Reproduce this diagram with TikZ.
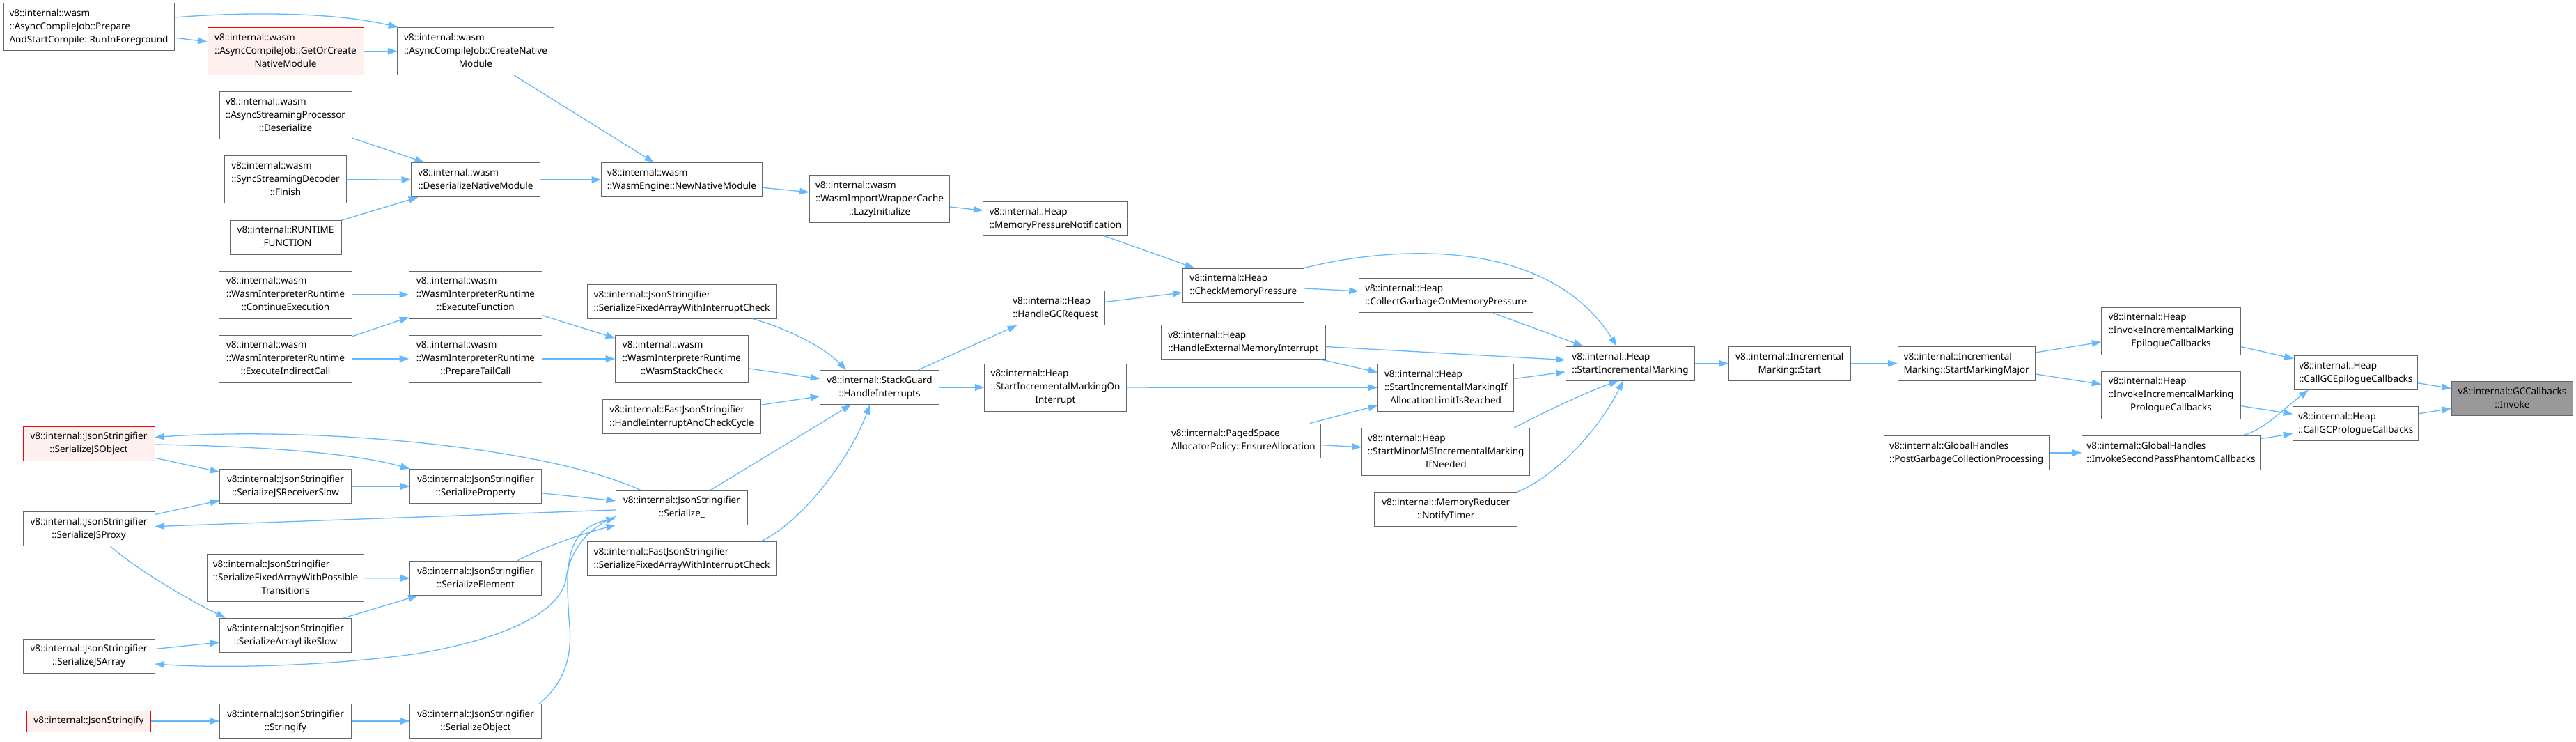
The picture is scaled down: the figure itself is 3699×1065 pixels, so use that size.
\documentclass[tikz,border=0pt]{standalone}
\usepackage{fontspec}
\setmainfont{Noto Sans}
\usetikzlibrary{arrows.meta}
\definecolor{edgeblue}{HTML}{63B8FF}
\definecolor{boxgray}{HTML}{666666}
\definecolor{redfill}{HTML}{FFF0F0}
\definecolor{hifill}{HTML}{999999}
\newcommand\dxl[2]{\begin{tabular}{@{}l@{}}#1\\\multicolumn{1}{@{}c@{}}{#2}\end{tabular}}
\newcommand\dxo[1]{\begin{tabular}{@{}c@{}}#1\end{tabular}}
\begin{document}
\begin{tikzpicture}[x=1pt,y=-1pt,
  box/.style={draw=boxgray, line width=1pt, fill=white, inner xsep=4pt, inner ysep=5.5pt, font=\fontsize{13.5}{19}\selectfont, text=black},
  redbox/.style={box, draw=red, fill=redfill},
  hibox/.style={box, fill=hifill},
  call/.style={draw=edgeblue, line width=1.3pt, -{Triangle[length=13.5pt,width=9.5pt]}}]
\useasboundingbox[fill=white] (0,0) rectangle (3699,1065);

% column 1
\node[box, minimum width=245pt] (rif) at (127.5,39) {\dxl{v8::internal::wasm\\::AsyncCompileJob::Prepare}{AndStartCompile::RunInForeground}};
\node[redbox, minimum width=189pt] (sjso) at (127.5,636.5) {\dxl{v8::internal::JsonStringifier}{::SerializeJSObject}};
\node[box, minimum width=189pt] (sjsp) at (127.5,759) {\dxl{v8::internal::JsonStringifier}{::SerializeJSProxy}};
\node[box, minimum width=189pt] (sjsa) at (127.5,941.5) {\dxl{v8::internal::JsonStringifier}{::SerializeJSArray}};
\node[redbox, minimum width=178.3pt] (jsfy) at (127.5,1035) {\dxo{v8::internal::JsonStringify}};

% column 2
\node[redbox, minimum width=224pt] (goc) at (410,73.7) {\dxl{v8::internal::wasm\\::AsyncCompileJob::GetOrCreate}{NativeModule}};
\node[box, minimum width=190pt] (asp) at (410,165.7) {\dxl{v8::internal::wasm\\::AsyncStreamingProcessor}{::Deserialize}};
\node[box, minimum width=174.4pt] (ssd) at (410,257.8) {\dxl{v8::internal::wasm\\::SyncStreamingDecoder}{::Finish}};
\node[box, minimum width=160pt] (rtf) at (410,340.5) {\dxl{v8::internal::RUNTIME}{\_FUNCTION}};
\node[box, minimum width=191pt] (ce) at (410,423) {\dxl{v8::internal::wasm\\::WasmInterpreterRuntime}{::ContinueExecution}};
\node[box, minimum width=191pt] (eic) at (410,515) {\dxl{v8::internal::wasm\\::WasmInterpreterRuntime}{::ExecuteIndirectCall}};
\node[box, minimum width=188.6pt] (sjsrs) at (410,698) {\dxl{v8::internal::JsonStringifier}{::SerializeJSReceiverSlow}};
\node[box, minimum width=225.8pt] (sfawpt) at (410,829.6) {\dxl{v8::internal::JsonStringifier\\::SerializeFixedArrayWithPossible}{Transitions}};
\node[box, minimum width=188.6pt] (sals) at (410,912) {\dxl{v8::internal::JsonStringifier}{::SerializeArrayLikeSlow}};
\node[box, minimum width=188.6pt] (strf) at (410,1035) {\dxl{v8::internal::JsonStringifier}{::Stringify}};

% column 3
\node[box, minimum width=224.3pt] (cn) at (683,73.7) {\dxl{v8::internal::wasm\\::AsyncCompileJob::CreateNative}{Module}};
\node[box, minimum width=185pt] (dnm) at (683,258) {\dxl{v8::internal::wasm}{::DeserializeNativeModule}};
\node[box, minimum width=190.6pt] (ef) at (683,423) {\dxl{v8::internal::wasm\\::WasmInterpreterRuntime}{::ExecuteFunction}};
\node[box, minimum width=190.6pt] (ptc) at (683,515) {\dxl{v8::internal::wasm\\::WasmInterpreterRuntime}{::PrepareTailCall}};
\node[box, minimum width=188.2pt] (sp) at (683,698) {\dxl{v8::internal::JsonStringifier}{::SerializeProperty}};
\node[box, minimum width=188.2pt] (se) at (683,830) {\dxl{v8::internal::JsonStringifier}{::SerializeElement}};
\node[box, minimum width=188.2pt] (so) at (683,1035) {\dxl{v8::internal::JsonStringifier}{::SerializeObject}};

% column 4
\node[box, minimum width=230.9pt] (nnm) at (979,258) {\dxl{v8::internal::wasm}{::WasmEngine::NewNativeModule}};
\node[box, minimum width=272pt] (jsfaic) at (979,432.7) {\dxl{v8::internal::JsonStringifier}{::SerializeFixedArrayWithInterruptCheck}};
\node[box, minimum width=190.6pt] (wsc) at (979,515) {\dxl{v8::internal::wasm\\::WasmInterpreterRuntime}{::WasmStackCheck}};
\node[box, minimum width=227pt] (fjhiacc) at (979,598) {\dxl{v8::internal::FastJsonStringifier}{::HandleInterruptAndCheckCycle}};
\node[box, minimum width=189pt] (ser) at (979,728.5) {\dxl{v8::internal::JsonStringifier}{::Serialize\_}};
\node[box, minimum width=272pt] (fsfaic) at (979,802) {\dxl{v8::internal::FastJsonStringifier}{::SerializeFixedArrayWithInterruptCheck}};

% column 5
\node[box, minimum width=201.4pt] (li) at (1263,285.7) {\dxl{v8::internal::wasm\\::WasmImportWrapperCache}{::LazyInitialize}};
\node[box, minimum width=170.6pt] (hi) at (1263,556) {\dxl{v8::internal::StackGuard}{::HandleInterrupts}};

% column 6
\node[box, minimum width=207.2pt] (mpn) at (1515.5,313.7) {\dxl{v8::internal::Heap}{::MemoryPressureNotification}};
\node[box, minimum width=142.3pt] (hgc) at (1515.5,442) {\dxl{v8::internal::Heap}{::HandleGCRequest}};
\node[box, minimum width=203.2pt] (simoi) at (1515.5,556) {\dxl{v8::internal::Heap\\::StartIncrementalMarkingOn}{Interrupt}};

% column 7
\node[box, minimum width=174.2pt] (cmp) at (1785.3,409.5) {\dxl{v8::internal::Heap}{::CheckMemoryPressure}};
\node[box, minimum width=236.2pt] (hemi) at (1785.3,491) {\dxl{v8::internal::Heap}{::HandleExternalMemoryInterrupt}};
\node[box, minimum width=221.5pt] (psea) at (1785.3,632.5) {\dxl{v8::internal::PagedSpace}{AllocatorPolicy::EnsureAllocation}};

% column 8
\node[box, minimum width=249.9pt] (cgomp) at (2076.2,424.3) {\dxl{v8::internal::Heap}{::CollectGarbageOnMemoryPressure}};
\node[box, minimum width=195.3pt] (simialr) at (2076.2,556.4) {\dxl{v8::internal::Heap\\::StartIncrementalMarkingIf}{AllocationLimitIsReached}};
\node[box, minimum width=241.2pt] (smms) at (2076.2,648.5) {\dxl{v8::internal::Heap\\::StartMinorMSIncrementalMarking}{IfNeeded}};
\node[box, minimum width=205.2pt] (nt) at (2076.2,731) {\dxl{v8::internal::MemoryReducer}{::NotifyTimer}};

% columns 9-14
\node[box, minimum width=185.6pt] (sim) at (2341,521.7) {\dxl{v8::internal::Heap}{::StartIncrementalMarking}};
\node[box, minimum width=175.4pt] (ims) at (2569.8,521.7) {\dxl{v8::internal::Incremental}{Marking::Start}};
\node[box, minimum width=197.3pt] (smm) at (2823.7,521.7) {\dxl{v8::internal::Incremental}{Marking::StartMarkingMajor}};
\node[box, minimum width=236.7pt] (pgcp) at (2823.7,650) {\dxl{v8::internal::GlobalHandles}{::PostGarbageCollectionProcessing}};
\node[box, minimum width=199.4pt] (iimec) at (3117.5,475) {\dxl{v8::internal::Heap\\::InvokeIncrementalMarking}{EpilogueCallbacks}};
\node[box, minimum width=199.4pt] (iimpc) at (3117.5,567) {\dxl{v8::internal::Heap\\::InvokeIncrementalMarking}{PrologueCallbacks}};
\node[box, minimum width=255.6pt] (isppc) at (3117.5,650) {\dxl{v8::internal::GlobalHandles}{::InvokeSecondPassPhantomCallbacks}};
\node[box, minimum width=176.9pt] (cgec) at (3382.7,534.8) {\dxl{v8::internal::Heap}{::CallGCEpilogueCallbacks}};
\node[box, minimum width=179.9pt] (cgpc) at (3382.7,608.2) {\dxl{v8::internal::Heap}{::CallGCPrologueCallbacks}};
\node[hibox, minimum width=174pt] (gcc) at (3607.4,572.3) {\dxl{v8::internal::GCCallbacks}{::Invoke}};

% edges
\draw[call] ([yshift=14pt]rif.east) .. controls (350,17) and (480,17) .. ([xshift=1pt]cn.north west);
\draw[call] (rif) -- (goc);
\draw[call] (goc) -- (cn);
\draw[call] (cn) -- (nnm);
\draw[call] (asp) -- (dnm);
\draw[call] (ssd) -- (dnm);
\draw[call] (rtf) -- (dnm);
\draw[call] (dnm) -- (nnm);
\draw[call] (nnm) -- (li);
\draw[call] (li) -- (mpn);
\draw[call] (mpn) -- (cmp);
\draw[call] (hgc) -- (cmp);
\draw[call] (cmp) -- (cgomp);
\draw[call] (cmp.north east) .. controls (1990,355) and (2220,335) .. ([xshift=-19.5pt]sim.north);
\draw[call] (cgomp) -- (sim);
\draw[call] (hemi) -- (sim);
\draw[call] (hemi) -- (simialr);
\draw[call] (simoi) -- (simialr);
\draw[call] (psea) -- (simialr);
\draw[call] (psea) -- (smms);
\draw[call] (simialr) -- (sim);
\draw[call] ([xshift=-23pt]smms.north east) .. controls (2220,590) and (2280,562) .. ([xshift=-17pt]sim.south);
\draw[call] (nt.north east) .. controls (2240,680) and (2300,610) .. ([xshift=-10.5pt]sim.south);
\draw[call] (sim) -- (ims);
\draw[call] (ims) -- (smm);
\draw[call] (smm) -- (iimec);
\draw[call] (smm) -- (iimpc);
\draw[call] (iimec) -- (cgec);
\draw[call] (iimpc) -- (cgpc);
\draw[call] (pgcp) -- (isppc);
\draw[call] ([xshift=-26.4pt]isppc.north east) .. controls (3250,618) and (3275,590) .. ([xshift=21pt]cgec.south west);
\draw[call] (isppc) -- (cgpc);
\draw[call] (cgec) -- (gcc);
\draw[call] (cgpc) -- (gcc);
\draw[call] (hi) -- (hgc);
\draw[call] (hi) -- (simoi);
\draw[call] (ce) -- (ef);
\draw[call] (eic) -- (ef);
\draw[call] (eic) -- (ptc);
\draw[call] (ef) -- (wsc);
\draw[call] (ptc) -- (wsc);
\draw[call] (wsc) -- (hi);
\draw[call] ([xshift=-34.6pt]jsfaic.south east) .. controls (1120,468) and (1180,495) .. ([xshift=38pt]hi.north west);
\draw[call] (fjhiacc) -- (hi);
\draw[call] (ser) -- (hi);
\draw[call] ([xshift=-22.7pt]fsfaic.north east) .. controls (1150,750) and (1220,660) .. ([xshift=-14pt]hi.south);
\draw[call] ([xshift=36pt]ser.north west) .. controls (780,640) and (450,612) .. ([yshift=9pt]sjso.east);
\draw[call] ([yshift=-1.5pt]sjso.east) .. controls (350,640) and (500,648) .. (sp.north west);
\draw[call] (sjso) -- (sjsrs);
\draw[call] (sjsp) -- (sjsrs);
\draw[call] (sjsrs) -- (sp);
\draw[call] (sp) -- (ser);
\draw[call] (ser) -- (sjsp);
\draw[call] ([xshift=30.7pt]sjsp.south) .. controls (200,820) and (270,860) .. ([xshift=8.5pt]sals.north west);
\draw[call] (sfawpt) -- (se);
\draw[call] (sals) -- (se);
\draw[call] (sjsa) -- (sals);
\draw[call] ([yshift=-12.5pt]ser.west) .. controls (845,757) and (818,790) .. (813,830) .. controls (805,880) and (720,918) .. (600,938) .. controls (480,955) and (330,960) .. ([yshift=-11.5pt]sjsa.east);
\draw[call] ([xshift=-35pt]se.north east) .. controls (780,785) and (840,765) .. (ser.south west);
\draw[call] (jsfy) -- (strf);
\draw[call] (strf) -- (so);
\draw[call] ([xshift=-3.5pt]so.north east) .. controls (805,985) and (822,950) .. (818,900) .. controls (810,800) and (815,760) .. ([yshift=-15pt]ser.west);
\end{tikzpicture}
\end{document}
